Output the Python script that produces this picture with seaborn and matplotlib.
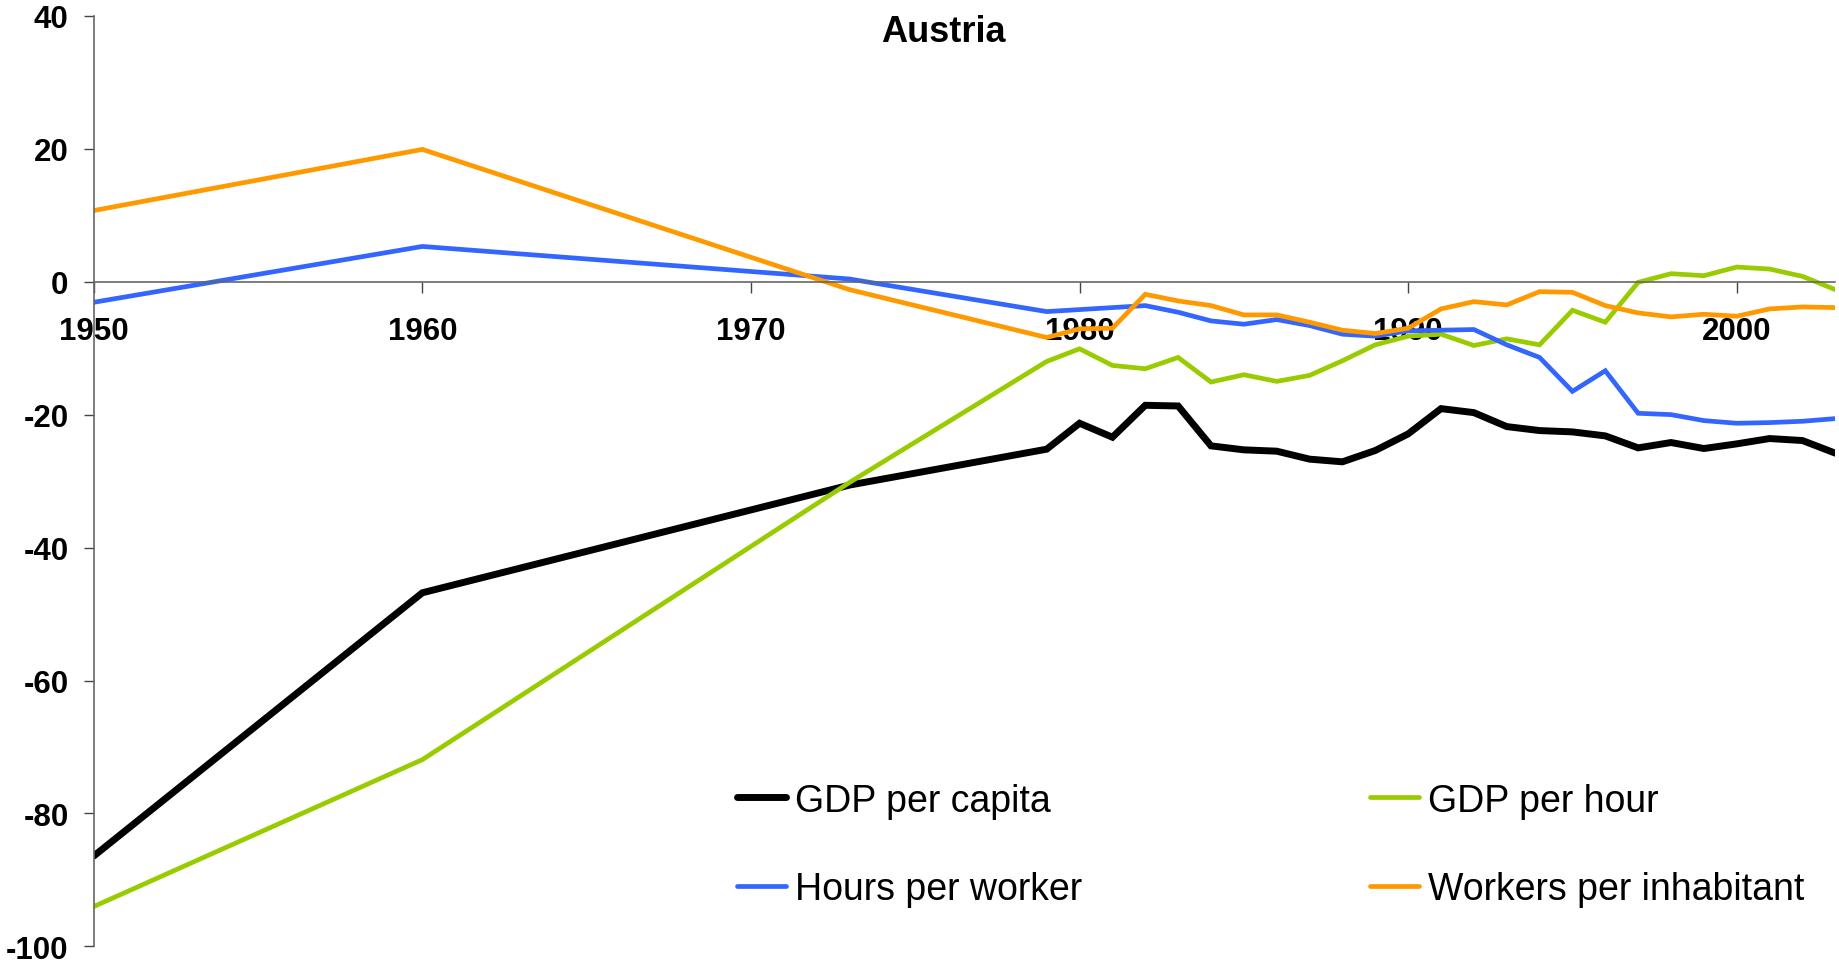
import matplotlib
matplotlib.use("Agg")
import matplotlib.pyplot as plt
import seaborn as sns
import pandas as pd

years = [1950, 1960, 1973, 1979, 1980, 1981, 1982, 1983, 1984, 1985, 1986, 1987,
         1988, 1989, 1990, 1991, 1992, 1993, 1994, 1995, 1996, 1997, 1998, 1999,
         2000, 2001, 2002, 2003]

gdp_per_capita = [-86.4, -46.8, -30.6, -25.2, -21.3, -23.4, -18.6, -18.7, -24.7, -25.3,
                  -25.5, -26.7, -27.1, -25.4, -22.9, -19.1, -19.7, -21.8, -22.4, -22.6,
                  -23.2, -25.0, -24.2, -25.1, -24.4, -23.6, -23.9, -25.8]
gdp_per_hour = [-94.0, -71.9, -30.2, -12.0, -10.1, -12.6, -13.1, -11.4, -15.1, -14.0,
                -15.0, -14.1, -11.9, -9.5, -8.2, -7.9, -9.6, -8.6, -9.5, -4.3,
                -6.1, -0.1, 1.2, 0.9, 2.2, 1.9, 0.8, -1.2]
hours_per_worker = [-3.1, 5.3, 0.4, -4.5, -4.2, -3.9, -3.6, -4.6, -5.9, -6.4,
                    -5.7, -6.6, -7.9, -8.2, -7.4, -7.3, -7.2, -9.5, -11.4, -16.5,
                    -13.4, -19.8, -20.0, -20.9, -21.3, -21.2, -21.0, -20.6]
workers_per_inhabitant = [10.7, 19.9, -1.2, -8.4, -7.1, -7.0, -1.9, -2.9, -3.6, -5.0,
                          -5.0, -6.1, -7.3, -7.8, -7.0, -4.1, -3.0, -3.5, -1.5, -1.6,
                          -3.6, -4.7, -5.3, -4.9, -5.2, -4.1, -3.8, -3.9]

series_names = ["GDP per capita", "GDP per hour", "Hours per worker", "Workers per inhabitant"]
series_values = [gdp_per_capita, gdp_per_hour, hours_per_worker, workers_per_inhabitant]
colors = ["#000000", "#99CC00", "#3366FF", "#FF9900"]
widths = [5.0, 3.4, 3.4, 3.4]

x_ticks = [1950, 1960, 1970, 1980, 1990, 2000]
y_ticks = [-100, -80, -60, -40, -20, 0, 20, 40]

sns.set_theme(style="white")
plt.rcParams["font.family"] = ["Liberation Sans", "DejaVu Sans"]
plt.rcParams["axes.unicode_minus"] = False
plt.rcParams["text.color"] = "black"
plt.rcParams["xtick.color"] = "black"
plt.rcParams["ytick.color"] = "black"

fig = plt.figure(figsize=(18.39, 9.70), dpi=100)
ax = fig.add_axes([0.051, 0.0233, 0.947, 0.9594])

for name, vals, c, lw in zip(series_names, series_values, colors, widths):
    df = pd.DataFrame({"year": years, "value": vals})
    sns.lineplot(data=df, x="year", y="value", ax=ax, color=c, linewidth=lw,
                 label=name, solid_joinstyle="miter")

ax.set_xlim(1950, 2003)
ax.set_ylim(-100, 40)
ax.set_xticks(x_ticks)
ax.set_yticks(y_ticks)
ax.set_xlabel("")
ax.set_ylabel("")

for s in ["top", "right"]:
    ax.spines[s].set_visible(False)
ax.spines["bottom"].set_position(("data", 0))
for s in ["left", "bottom"]:
    ax.spines[s].set_color("#666666")
    ax.spines[s].set_linewidth(1.2)

ax.tick_params(axis="x", which="major", direction="out", length=7.7, width=1.0,
               color="#444444", pad=17, labelsize=22.5, labelcolor="black", bottom=True)
ax.tick_params(axis="y", which="major", direction="out", length=7.2, width=1.0,
               color="#444444", pad=11, labelsize=22.5, labelcolor="black", left=True)
for lab in ax.get_xticklabels() + ax.get_yticklabels():
    lab.set_fontweight("bold")
ax.grid(False)

fig.text(0.513, 0.966, "Austria", ha="center", va="center",
         fontsize=26, fontweight="bold", color="black")

handles, labels = ax.get_legend_handles_labels()
order = [0, 2, 1, 3]
leg = ax.legend([handles[i] for i in order], [labels[i] for i in order],
                loc="upper left", bbox_to_anchor=(0.4006, 0.1922),
                bbox_transform=fig.transFigure, ncol=2, frameon=False,
                fontsize=27, handlelength=1.31, handletextpad=0.25,
                columnspacing=7.67, labelspacing=1.39, borderpad=0,
                borderaxespad=0)
for t in leg.get_texts():
    t.set_color("black")

fig.savefig("out.png", dpi=100, facecolor="white")
